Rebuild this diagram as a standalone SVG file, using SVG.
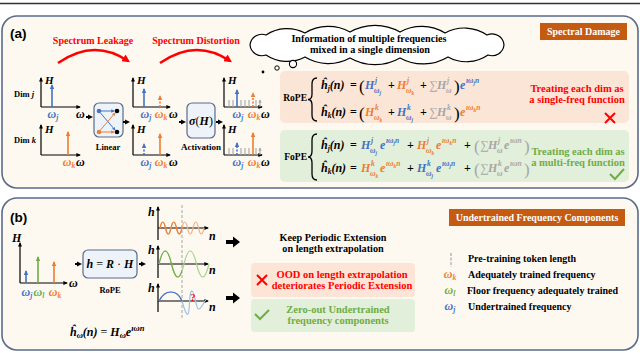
<svg xmlns="http://www.w3.org/2000/svg" width="640" height="353" viewBox="0 0 640 353">
<defs>
<style>
.t{font-family:"Liberation Serif","DejaVu Serif",serif;font-weight:bold;}
.m{font-family:"Liberation Serif","DejaVu Serif",serif;font-style:italic;font-weight:bold;font-size:12px;}
.u{font-family:"Liberation Serif","DejaVu Serif",serif;font-weight:normal;font-style:normal;}
.s{font-family:"Liberation Sans",Arial,sans-serif;font-weight:bold;}
.sm{font-size:7.5px;}
.xs{font-size:5.5px;}
.hl{font-size:11px;}
.b{fill:#4472c4}.o{fill:#ed7d31}.g{fill:#70ad47}.gr{fill:#a6a6a6}.r{fill:#ff0000}.k{fill:#000}.w{fill:#fff}
.ax{stroke:#000;stroke-width:1.2;fill:none;marker-end:url(#ak)}
.panel{fill:#fdf9f1;stroke:#5a6b8a;stroke-width:1.6}
.box{fill:#eef3fa;stroke:#5a6b8a;stroke-width:1.2}
.spb{stroke:#4472c4;stroke-width:1.6;fill:none;marker-end:url(#ab)}
.spo{stroke:#ed7d31;stroke-width:1.6;fill:none;marker-end:url(#ao)}
.spg{stroke:#70ad47;stroke-width:1.6;fill:none;marker-end:url(#ag)}
.spgr{stroke:#a6a6a6;stroke-width:1.1;fill:none;marker-end:url(#agr)}
.d{stroke-dasharray:2,1.5}
.arr{stroke:#000;stroke-width:2;fill:none;marker-end:url(#ak2)}
.c{text-anchor:middle}
</style>
<marker id="ak" viewBox="0 0 10 10" refX="8" refY="5" markerWidth="4.5" markerHeight="4.5" markerUnits="userSpaceOnUse" orient="auto"><path d="M0,0.5 L10,5 L0,9.5 z" fill="#000"/></marker>
<marker id="ak2" viewBox="0 0 10 10" refX="6" refY="5" markerWidth="5.5" markerHeight="5.5" markerUnits="userSpaceOnUse" orient="auto"><path d="M0,0 L10,5 L0,10 z" fill="#000"/></marker>
<marker id="ab" viewBox="0 0 10 10" refX="8" refY="5" markerWidth="5" markerHeight="5" markerUnits="userSpaceOnUse" orient="auto"><path d="M0,0.5 L10,5 L0,9.5 z" fill="#4472c4"/></marker>
<marker id="ao" viewBox="0 0 10 10" refX="8" refY="5" markerWidth="5" markerHeight="5" markerUnits="userSpaceOnUse" orient="auto"><path d="M0,0.5 L10,5 L0,9.5 z" fill="#ed7d31"/></marker>
<marker id="ag" viewBox="0 0 10 10" refX="8" refY="5" markerWidth="5" markerHeight="5" markerUnits="userSpaceOnUse" orient="auto"><path d="M0,0.5 L10,5 L0,9.5 z" fill="#70ad47"/></marker>
<marker id="agr" viewBox="0 0 10 10" refX="8" refY="5" markerWidth="3.5" markerHeight="3.5" markerUnits="userSpaceOnUse" orient="auto"><path d="M0,0.5 L10,5 L0,9.5 z" fill="#a6a6a6"/></marker>
<marker id="ar" viewBox="0 0 10 10" refX="7" refY="5" markerWidth="8" markerHeight="8" markerUnits="userSpaceOnUse" orient="auto"><path d="M0,0 L10,5 L0,10 z" fill="#ff0000"/></marker>
<marker id="abs" viewBox="0 0 10 10" refX="8" refY="5" markerWidth="3.5" markerHeight="3.5" markerUnits="userSpaceOnUse" orient="auto"><path d="M0,0 L10,5 L0,10 z" fill="#4472c4"/></marker>
<marker id="aos" viewBox="0 0 10 10" refX="8" refY="5" markerWidth="3.5" markerHeight="3.5" markerUnits="userSpaceOnUse" orient="auto"><path d="M0,0 L10,5 L0,10 z" fill="#ed7d31"/></marker>
<clipPath id="left"><rect x="150" y="200" width="32" height="130"/></clipPath>
</defs>

<!-- top rule -->
<line x1="0" y1="3.5" x2="640" y2="3.5" stroke="#333" stroke-width="1.5"/>

<!-- ================= Panel (a) ================= -->
<g id="panel-a">
<rect class="panel" x="2" y="16" width="636" height="172" rx="15"/>
<text class="s" x="10" y="38" font-size="13.5">(a)</text>
<text class="t r c" x="93" y="44" font-size="10">Spectrum Leakage</text>
<text class="t r c" x="196" y="44" font-size="10">Spectrum Distortion</text>
</g>

<g id="dim-j">
<text class="t" x="14" y="97" font-size="8.5">Dim <tspan font-style="italic">j</tspan></text>
<path class="ax" d="M41,107 V78"/><path class="ax" d="M41,107 H80"/>
<text class="m hl" x="45" y="84">H</text>
<path class="spb" d="M52,107 V85"/>
<text class="m b c" x="53" y="118">ω<tspan class="sm" dy="1.5">j</tspan></text>
<text class="m" x="76" y="118">ω</text>
</g>

<g id="dim-k">
<text class="t" x="14" y="143" font-size="8.5">Dim <tspan font-style="italic">k</tspan></text>
<path class="ax" d="M41,155 V125"/><path class="ax" d="M41,155 H80"/>
<text class="m hl" x="45" y="133">H</text>
<path class="spo" d="M68,155 V132"/>
<text class="m o c" x="69" y="166">ω<tspan class="sm" dy="1.5">k</tspan></text>
<text class="m" x="76" y="166">ω</text>
</g>

<g id="linear">
<rect class="box" x="94" y="103" width="29" height="34" rx="5"/>
<line x1="101" y1="111" x2="114" y2="111" stroke="#4472c4" stroke-width="1" marker-end="url(#abs)"/>
<line x1="100.5" y1="113" x2="115" y2="130" stroke="#4472c4" stroke-width="1" marker-end="url(#abs)"/>
<line x1="100.5" y1="130" x2="115" y2="113" stroke="#ed7d31" stroke-width="1" marker-end="url(#aos)"/>
<line x1="101" y1="132" x2="114" y2="132" stroke="#ed7d31" stroke-width="1" marker-end="url(#aos)"/>
<circle cx="99" cy="111" r="2.3" fill="#4472c4"/>
<circle cx="99" cy="132" r="2.3" fill="#ed7d31"/>
<circle cx="117" cy="111" r="2.3" fill="#000"/>
<circle cx="117" cy="132" r="2.3" fill="#000"/>
<text class="t c" x="108" y="150" font-size="8.5">Linear</text>
</g>

<g id="mixed-j">
<path class="ax" d="M133,107 V78"/><path class="ax" d="M133,107 H170"/>
<text class="m hl" x="137" y="84">H</text>
<path class="spb" d="M144,107 V89"/>
<path class="spo d" d="M160,107 V96"/>
<text class="m b c" x="146" y="118">ω<tspan class="sm" dy="1.5">j</tspan></text>
<text class="m o c" x="161" y="118">ω<tspan class="sm" dy="1.5">k</tspan></text>
<text class="m" x="169" y="118">ω</text>
</g>

<g id="mixed-k">
<path class="ax" d="M133,155 V125"/><path class="ax" d="M133,155 H170"/>
<text class="m hl" x="137" y="133">H</text>
<path class="spb d" d="M144,155 V144"/>
<path class="spo" d="M160,155 V134"/>
<text class="m b c" x="146" y="166">ω<tspan class="sm" dy="1.5">j</tspan></text>
<text class="m o c" x="161" y="166">ω<tspan class="sm" dy="1.5">k</tspan></text>
<text class="m" x="169" y="166">ω</text>
</g>

<g id="activation">
<rect class="box" x="187" y="103" width="28" height="35" rx="5"/>
<text class="m c" x="201" y="125" font-size="12.5">σ<tspan class="u">(</tspan>H<tspan class="u">)</tspan></text>
<text class="t c" x="201" y="150" font-size="9">Activation</text>
</g>

<g id="distorted-j">
<path class="ax" d="M224,107 V78"/><path class="ax" d="M224,107 H262"/>
<text class="m hl" x="228" y="84">H</text>
<path class="spgr" d="M229,107 V100 M233,107 V100 M241,107 V100 M245,107 V100 M249,107 V100 M256,107 V100 M260,107 V100"/>
<path class="spb" d="M237,107 V90"/>
<path class="spo d" d="M253,107 V93"/>
<text class="m b c" x="238" y="118">ω<tspan class="sm" dy="1.5">j</tspan></text>
<text class="m o c" x="254" y="118">ω<tspan class="sm" dy="1.5">k</tspan></text>
<text class="m" x="261" y="118">ω</text>
</g>

<g id="distorted-k">
<path class="ax" d="M224,155 V125"/><path class="ax" d="M224,155 H262"/>
<text class="m hl" x="228" y="133">H</text>
<path class="spgr" d="M229,155 V148 M233,155 V148 M241,155 V148 M245,155 V148 M249,155 V148 M256,155 V148 M260,155 V148"/>
<path class="spb d" d="M237,155 V143"/>
<path class="spo" d="M253,155 V133"/>
<text class="m b c" x="238" y="166">ω<tspan class="sm" dy="1.5">j</tspan></text>
<text class="m o c" x="254" y="166">ω<tspan class="sm" dy="1.5">k</tspan></text>
<text class="m" x="261" y="166">ω</text>
</g>

<g id="thought-cloud">
<path d="M250,45 A12,12 0 0 1 266,35 A38,38 0 0 1 305,33 A45,45 0 0 1 350,32 A50,50 0 0 1 400,32 A45,45 0 0 1 445,33 A40,40 0 0 1 487,35 A12,12 0 0 1 504,45 A12,12 0 0 1 488,55 A38,38 0 0 1 448,57 A48,48 0 0 1 400,58 A50,50 0 0 1 350,58 A45,45 0 0 1 305,57 A38,38 0 0 1 266,55 A12,12 0 0 1 250,45 Z" fill="#fff" stroke="#000" stroke-width="1.2"/>
<circle cx="293" cy="64" r="3.6" fill="#fff" stroke="#000" stroke-width="1.1"/>
<circle cx="277" cy="68" r="2.2" fill="#fff" stroke="#000" stroke-width="1"/>
<circle cx="263" cy="72" r="1.4" fill="#000"/>
<text class="t c" x="369" y="42" font-size="10.2">Information of multiple frequencies</text>
<text class="t c" x="370" y="53" font-size="10.2">mixed in a single dimension</text>
</g>

<g id="spectral-damage">
<rect x="540" y="23" width="87" height="17" fill="#c55a11"/>
<text class="t w c" x="583.5" y="35" font-size="10">Spectral Damage</text>
</g>

<g id="rope-box">
<rect x="280" y="71" width="349" height="52" rx="5" fill="#fbe5d6"/>
<text class="t" x="307" y="101" font-size="9.5" text-anchor="end">RoPE</text>
<path d="M317,78 Q312,78 312,84 L312,94 Q312,99.5 308,99.5 Q312,99.5 312,105 L312,115 Q312,121 317,121" fill="none" stroke="#000" stroke-width="1.3"/>
<!-- line 1 -->
<text class="m" x="321" y="89">ĥ<tspan class="sm" dy="2">j</tspan><tspan dy="-2">(n)</tspan></text>
<text class="t" x="350" y="89" font-size="12">=</text>
<text class="u" x="359" y="92" font-size="17">(</text>
<text class="m b" x="365" y="89">H</text><text class="m b sm" x="375" y="83">j</text><text class="m b sm" x="374" y="93">ω<tspan class="xs" dy="1.5">j</tspan></text>
<text class="t" x="388" y="89" font-size="12">+</text>
<text class="m o" x="397" y="89">H</text><text class="m o sm" x="407" y="83">j</text><text class="m o sm" x="406" y="93">ω<tspan class="xs" dy="1.5">k</tspan></text>
<text class="t" x="420" y="89" font-size="12">+</text>
<text class="u gr" x="429" y="89" font-size="12">∑</text>
<text class="m gr" x="437" y="89">H</text><text class="m gr sm" x="447" y="83">j</text><text class="m gr sm" x="446" y="93">ω</text>
<text class="u" x="454" y="92" font-size="17">)</text>
<text class="m b" x="460" y="89">e</text><text class="m b sm" x="466" y="83">ıω<tspan class="xs" dy="1.5">j</tspan><tspan dy="-1.5">n</tspan></text>
<!-- line 2 -->
<text class="m" x="321" y="116">ĥ<tspan class="sm" dy="2">k</tspan><tspan dy="-2">(n)</tspan></text>
<text class="t" x="350" y="116" font-size="12">=</text>
<text class="u" x="359" y="119" font-size="17">(</text>
<text class="m o" x="365" y="116">H</text><text class="m o sm" x="375" y="110">k</text><text class="m o sm" x="374" y="120">ω<tspan class="xs" dy="1.5">k</tspan></text>
<text class="t" x="388" y="116" font-size="12">+</text>
<text class="m b" x="397" y="116">H</text><text class="m b sm" x="407" y="110">k</text><text class="m b sm" x="406" y="120">ω<tspan class="xs" dy="1.5">j</tspan></text>
<text class="t" x="420" y="116" font-size="12">+</text>
<text class="u gr" x="429" y="116" font-size="12">∑</text>
<text class="m gr" x="437" y="116">H</text><text class="m gr sm" x="447" y="110">k</text><text class="m gr sm" x="446" y="120">ω</text>
<text class="u" x="454" y="119" font-size="17">)</text>
<text class="m o" x="460" y="116">e</text><text class="m o sm" x="466" y="110">ıω<tspan class="xs" dy="1.5">k</tspan><tspan dy="-1.5">n</tspan></text>
<text class="t r c" x="577" y="92" font-size="10.5">Treating each dim as</text>
<text class="t r c" x="577" y="103" font-size="10.5">a single-freq function</text>
<path d="M605,113 L615,123 M615,113 L605,123" stroke="#ff0000" stroke-width="2" fill="none"/>
</g>

<g id="fope-box">
<rect x="280" y="130" width="349" height="52" rx="5" fill="#e2efda"/>
<text class="t" x="307" y="160" font-size="9.5" text-anchor="end">FoPE</text>
<path d="M317,134 Q312,134 312,140 L312,151 Q312,157 308,157 Q312,157 312,163 L312,174 Q312,180 317,180" fill="none" stroke="#000" stroke-width="1.3"/>
<!-- line 1 -->
<text class="m" x="321" y="149">ĥ<tspan class="sm" dy="2">j</tspan><tspan dy="-2">(n)</tspan></text>
<text class="t" x="350" y="149" font-size="12">=</text>
<text class="m b" x="361" y="149">H</text><text class="m b sm" x="371" y="143">j</text><text class="m b sm" x="370" y="153">ω<tspan class="xs" dy="1.5">j</tspan></text>
<text class="m b" x="380" y="149">e</text><text class="m b sm" x="386" y="143">ıω<tspan class="xs" dy="1.5">j</tspan><tspan dy="-1.5">n</tspan></text>
<text class="t" x="407" y="149" font-size="12">+</text>
<text class="m o" x="417" y="149">H</text><text class="m o sm" x="427" y="143">j</text><text class="m o sm" x="426" y="153">ω<tspan class="xs" dy="1.5">k</tspan></text>
<text class="m o" x="436" y="149">e</text><text class="m o sm" x="442" y="143">ıω<tspan class="xs" dy="1.5">k</tspan><tspan dy="-1.5">n</tspan></text>
<text class="t" x="464" y="149" font-size="12">+</text>
<text class="u gr" x="474" y="152" font-size="17">(</text>
<text class="u gr" x="480" y="149" font-size="12">∑</text>
<text class="m gr" x="488" y="149">H</text><text class="m gr sm" x="498" y="143">j</text><text class="m gr sm" x="497" y="153">ω</text>
<text class="m gr" x="504" y="149">e</text><text class="m gr sm" x="510" y="143">ıωn</text>
<text class="u gr" x="524" y="152" font-size="17">)</text>
<!-- line 2 -->
<text class="m" x="321" y="172">ĥ<tspan class="sm" dy="2">k</tspan><tspan dy="-2">(n)</tspan></text>
<text class="t" x="350" y="172" font-size="12">=</text>
<text class="m o" x="361" y="172">H</text><text class="m o sm" x="371" y="166">k</text><text class="m o sm" x="370" y="176">ω<tspan class="xs" dy="1.5">k</tspan></text>
<text class="m o" x="380" y="172">e</text><text class="m o sm" x="386" y="166">ıω<tspan class="xs" dy="1.5">k</tspan><tspan dy="-1.5">n</tspan></text>
<text class="t" x="407" y="172" font-size="12">+</text>
<text class="m b" x="417" y="172">H</text><text class="m b sm" x="427" y="166">k</text><text class="m b sm" x="426" y="176">ω<tspan class="xs" dy="1.5">j</tspan></text>
<text class="m b" x="436" y="172">e</text><text class="m b sm" x="442" y="166">ıω<tspan class="xs" dy="1.5">j</tspan><tspan dy="-1.5">n</tspan></text>
<text class="t" x="464" y="172" font-size="12">+</text>
<text class="u gr" x="474" y="175" font-size="17">(</text>
<text class="u gr" x="480" y="172" font-size="12">∑</text>
<text class="m gr" x="488" y="172">H</text><text class="m gr sm" x="498" y="166">k</text><text class="m gr sm" x="497" y="176">ω</text>
<text class="m gr" x="504" y="172">e</text><text class="m gr sm" x="510" y="166">ıωn</text>
<text class="u gr" x="524" y="175" font-size="17">)</text>
<text class="t g c" x="578" y="155" font-size="10.5">Treating each dim as</text>
<text class="t g c" x="578" y="166" font-size="10.5">a multi-freq function</text>
<path d="M610,174 L615,179 L624,169" stroke="#70ad47" stroke-width="2" fill="none"/>
</g>

<!-- ================= Panel (b) ================= -->
<g id="panel-b">
<rect class="panel" x="2" y="198" width="636" height="152" rx="15"/>
<text class="s" x="10" y="222" font-size="13.5">(b)</text>
</g>

<g id="spectrum-b">
<path class="ax" d="M20,283 V243"/><path class="ax" d="M20,283 H67"/>
<text class="m" x="12" y="242">H</text>
<path class="spb" d="M26,283 V271"/>
<path class="spg" d="M38,283 V257"/>
<path class="spo" d="M54,283 V262"/>
<text class="m b c" x="27" y="296">ω<tspan class="sm" dy="2">j</tspan></text>
<text class="m g c" x="39" y="296">ω<tspan class="sm" dy="2">l</tspan></text>
<text class="m o c" x="55" y="296">ω<tspan class="sm" dy="2">k</tspan></text>
<text class="m" x="69" y="287">ω</text>
</g>

<g id="rope-op">
<rect class="box" x="83" y="250" width="54" height="28" rx="5"/>
<text class="m c" x="110" y="268" font-size="12.5">h <tspan class="u">=</tspan> R <tspan class="u">·</tspan> H</text>
<text class="t c" x="110" y="293" font-size="8.5">RoPE</text>
</g>

<g id="formula-b">
<text class="m" x="70" y="336" font-size="13">ĥ<tspan font-size="8.5" dy="2">ω</tspan><tspan dy="-2">(n)</tspan><tspan class="u"> = </tspan>H<tspan font-size="8.5" dy="2">ω</tspan><tspan dy="-2">e</tspan><tspan font-size="8.5" dy="-5">ıωn</tspan></text>
</g>

<g id="waves">
<line x1="182" y1="205" x2="182" y2="320" stroke="#a6a6a6" stroke-width="1" stroke-dasharray="3,2"/>
<!-- top -->
<path class="ax" d="M158,240 V207"/><path class="ax" d="M158,228 H208"/>
<text class="m" x="148" y="216">h</text><text class="m" x="209" y="240">n</text>
<path d="M160,228 q2.75,-12 5.5,0 t5.5,0 t5.5,0 t5.5,0 t5.5,0 t5.5,0 t5.5,0 t5.5,0" fill="none" stroke="#f4b183" stroke-width="1.2"/>
<path clip-path="url(#left)" d="M160,228 q2.75,-12 5.5,0 t5.5,0 t5.5,0 t5.5,0 t5.5,0" fill="none" stroke="#ed7d31" stroke-width="1.2"/>
<!-- middle -->
<path class="ax" d="M158,278 V246"/><path class="ax" d="M158,264 H208"/>
<text class="m" x="148" y="254">h</text><text class="m" x="209" y="274">n</text>
<path d="M159,264 q6.25,-26 12.5,0 t12.5,0 t12.5,0 t12.5,0" fill="none" stroke="#a9d18e" stroke-width="1.2"/>
<path clip-path="url(#left)" d="M159,264 q6.25,-26 12.5,0 t12.5,0 t12.5,0" fill="none" stroke="#70ad47" stroke-width="1.2"/>
<!-- bottom -->
<path class="ax" d="M158,312 V284"/><path class="ax" d="M158,301 H208"/>
<text class="m" x="148" y="292">h</text><text class="m" x="209" y="311">n</text>
<path d="M159,301 C165,289 177,289 182,301 C184,307 186,316 188,314 C190,312 189,290 192,291 C195,292 196,310 199,309 C202,308 204,301 206,300" fill="none" stroke="#9dc3e6" stroke-width="1.2"/>
<path clip-path="url(#left)" d="M159,301 C165,289 177,289 182,301" fill="none" stroke="#4472c4" stroke-width="1.2"/>
<text class="t r c" x="193" y="301" font-size="10">?</text>
</g>

<g id="keep-periodic">
<text class="t c" x="333" y="241" font-size="10.2">Keep Periodic Extension</text>
<text class="t c" x="333" y="252" font-size="10.2">on length extrapolation</text>
</g>

<g id="ood-box">
<rect x="251" y="263" width="164" height="34" rx="4" fill="#fce4d6"/>
<path d="M257,275 L267,285 M267,275 L257,285" stroke="#ff0000" stroke-width="2" fill="none"/>
<text class="t r c" x="342" y="278" font-size="10.5">OOD on length extrapolation</text>
<text class="t r c" x="342" y="289" font-size="10.5">deteriorates Periodic Extension</text>
</g>

<g id="zero-out-box">
<rect x="251" y="299" width="164" height="33" rx="4" fill="#e2efda"/>
<path d="M255,314 L260,319 L269,310" stroke="#70ad47" stroke-width="2" fill="none"/>
<text class="t g c" x="338" y="313" font-size="10.5">Zero-out Undertrained</text>
<text class="t g c" x="338" y="324" font-size="10.5">frequency components</text>
</g>

<g id="undertrained-title">
<rect x="449" y="209" width="176" height="17" fill="#c55a11"/>
<text class="t w c" x="537" y="221" font-size="10">Undertrained Frequency Components</text>
</g>

<g id="legend">
<line x1="451" y1="253" x2="451" y2="267" stroke="#a6a6a6" stroke-width="1.2" stroke-dasharray="3,1.5"/>
<text class="t" x="468" y="262" font-size="10">Pre-training token length</text>
<text class="m o c" x="450" y="278">ω<tspan class="sm" dy="2">k</tspan></text>
<text class="t" x="468" y="278" font-size="10">Adequately trained frequency</text>
<text class="m g c" x="450" y="294">ω<tspan class="sm" dy="2">l</tspan></text>
<text class="t" x="467" y="294" font-size="10">Floor frequency adequately trained</text>
<text class="m b c" x="450" y="310">ω<tspan class="sm" dy="2">j</tspan></text>
<text class="t" x="468" y="310" font-size="10">Undertrained frequency</text>
</g>

<g id="connectors">
<path d="M58,63 Q94,38 128,61" fill="none" stroke="#ff0000" stroke-width="2.5" marker-end="url(#ar)"/>
<path d="M160,63 Q196,38 230,61" fill="none" stroke="#ff0000" stroke-width="2.5" marker-end="url(#ar)"/>
<line class="arr" x1="86" y1="117" x2="91" y2="117"/>
<line class="arr" x1="123" y1="122" x2="128" y2="122"/>
<line class="arr" x1="179" y1="122" x2="184" y2="122"/>
<line class="arr" x1="216" y1="122" x2="221" y2="122"/>
<line class="arr" x1="75" y1="264" x2="80" y2="264"/>
<line class="arr" x1="139" y1="264" x2="144" y2="264"/>
<path d="M226,240 H233 V236.5 L240,242 L233,247.5 V244 H226 Z" fill="#000"/>
<path d="M226,296 H233 V292.5 L240,298 L233,303.5 V300 H226 Z" fill="#000"/>
</g>
</svg>
